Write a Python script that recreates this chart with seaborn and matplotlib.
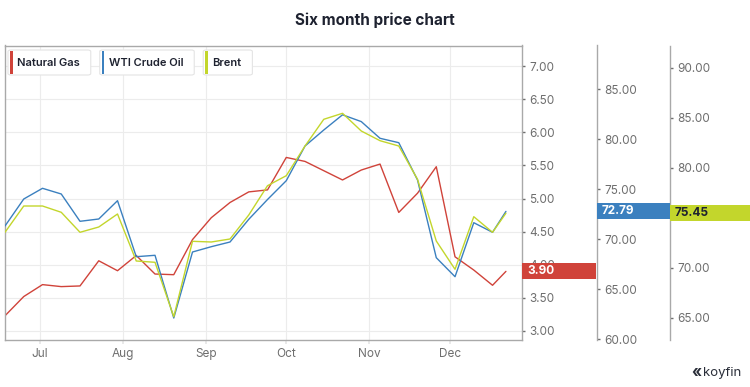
import matplotlib
matplotlib.use('Agg')
import matplotlib.pyplot as plt
import matplotlib.dates as mdates
from matplotlib.patches import FancyBboxPatch, Rectangle
from matplotlib.ticker import FuncFormatter, MultipleLocator
import pandas as pd
import seaborn as sns

# weekly closes, Jun - Dec 2021
dates = ['2021-06-18', '2021-06-25', '2021-07-02', '2021-07-09', '2021-07-16',
         '2021-07-23', '2021-07-30', '2021-08-06', '2021-08-13', '2021-08-20',
         '2021-08-27', '2021-09-03', '2021-09-10', '2021-09-17', '2021-09-24',
         '2021-10-01', '2021-10-08', '2021-10-15', '2021-10-22', '2021-10-29',
         '2021-11-05', '2021-11-12', '2021-11-19', '2021-11-26', '2021-12-03',
         '2021-12-10', '2021-12-17', '2021-12-22']
natural_gas = [3.23, 3.52, 3.70, 3.67, 3.68, 4.06, 3.91, 4.14, 3.86, 3.85,
               4.38, 4.71, 4.94, 5.10, 5.13, 5.62, 5.56, 5.42, 5.28, 5.43,
               5.52, 4.79, 5.08, 5.48, 4.12, 3.92, 3.69, 3.90]
wti_crude = [71.33, 74.03, 75.10, 74.53, 71.80, 72.03, 73.86, 68.26, 68.40, 62.13,
             68.73, 69.26, 69.73, 72.00, 73.98, 75.86, 79.33, 80.93, 82.45, 81.77,
             80.10, 79.66, 75.93, 68.16, 66.26, 71.66, 70.70, 72.79]
brent = [73.54, 76.17, 76.17, 75.54, 73.54, 74.07, 75.37, 70.67, 70.54, 65.10,
         72.64, 72.57, 72.87, 75.27, 78.20, 79.20, 82.17, 84.84, 85.44, 83.67,
         82.70, 82.17, 78.84, 72.67, 69.84, 75.10, 73.54, 75.45]

series_names = ['Natural Gas', 'WTI Crude Oil', 'Brent']
colors = ['#d0433a', '#3b80bf', '#c3d62c']
tag_text_colors = ['white', 'white', '#1e2230']

df = pd.DataFrame({'date': pd.to_datetime(dates), 'gas': natural_gas,
                   'wti': wti_crude, 'brent': brent})

W, H = 750, 387
sns.set_theme(style='white')
plt.rcParams['font.family'] = ['Inter', 'DejaVu Sans']


def fx(px):
    return px / W


def fy(py):
    return 1 - py / H


left, right, top, bottom = 5, 522, 45.5, 340
fig = plt.figure(figsize=(W / 100, H / 100), dpi=100)
ax = fig.add_axes([fx(left), fy(bottom), fx(right - left), (bottom - top) / H])
ax2 = ax.twinx()
ax3 = ax.twinx()

sns.lineplot(data=df, x='date', y='gas', ax=ax, color=colors[0], lw=1.0)
sns.lineplot(data=df, x='date', y='wti', ax=ax2, color=colors[1], lw=1.0)
sns.lineplot(data=df, x='date', y='brent', ax=ax3, color=colors[2], lw=1.0)

ax.set_xlim(pd.Timestamp('2021-06-18'), pd.Timestamp('2021-12-28'))
ax.set_ylim(2.864, 7.31)
ax2.set_ylim(59.93, 89.38)
ax3.set_ylim(62.77, 92.22)

last_vals = [natural_gas[-1], wti_crude[-1], brent[-1]]


def tag_formatter(a, val):
    # hide a tick label that would sit fully under the last-value tag
    lo, hi = a.get_ylim()
    per_px = (hi - lo) / (bottom - top)

    def fmt(v, pos):
        if abs(v - val) < 6 * per_px:
            return ''
        return f'{v:.2f}'
    return FuncFormatter(fmt)


tick_col = '#6e6e6e'
spine_col = '#a9a9a9'
for a, val in zip((ax, ax2, ax3), last_vals):
    a.set_xlabel('')
    a.set_ylabel('')
    a.yaxis.set_major_formatter(tag_formatter(a, val))
    a.tick_params(axis='y', which='both', left=False, right=True, labelleft=False,
                  labelright=True, length=2, width=1, pad=3, color=tick_col,
                  labelsize=8.5, labelcolor=tick_col)

ax.yaxis.set_major_locator(MultipleLocator(0.5))
ax2.yaxis.set_major_locator(MultipleLocator(5))
ax3.yaxis.set_major_locator(MultipleLocator(5))

ax.xaxis.set_major_locator(mdates.MonthLocator())
ax.xaxis.set_major_formatter(mdates.DateFormatter('%b'))
ax.tick_params(axis='x', bottom=True, length=3, color='#e6e6e6', pad=3,
               labelsize=8.5, labelcolor=tick_col)
ax.grid(True, color='#ececec', lw=0.8)
ax2.grid(False)
ax3.grid(False)

for s in ax.spines.values():
    s.set_color(spine_col)
    s.set_linewidth(1)
for a, pos in ((ax2, (597 - left) / (right - left)), (ax3, (670 - left) / (right - left))):
    for k in ('left', 'top', 'bottom'):
        a.spines[k].set_visible(False)
    a.spines['right'].set_position(('axes', pos))
    a.spines['right'].set_color(spine_col)
    a.spines['right'].set_linewidth(1)

fig.canvas.draw()
renderer = fig.canvas.get_renderer()

# last value tags on each axis
tag_cols = [(522, 596), (597, 670), (670, 750)]
for a, val, (x0, x1), c, tc in zip((ax, ax2, ax3), last_vals, tag_cols, colors, tag_text_colors):
    yc = a.transData.transform((0, val))[1] / H
    fig.patches.append(Rectangle((fx(x0), yc - 8 / H), fx(x1 - x0), 16 / H,
                                 transform=fig.transFigure, fc=c, ec='none', zorder=2))
    fig.text(fx(x0 + 5), yc, f'{val:.2f}', ha='left', va='center', fontsize=8.5,
             fontweight='bold', color=tc, zorder=3)

# title
fig.text(0.5, fy(20), 'Six month price chart', ha='center', va='center',
         fontsize=11, fontweight='bold', color='#1e2230')

# legend chips
x = 8
for name, c in zip(series_names, colors):
    t = fig.text(fx(x + 9), fy(62.5), name, ha='left', va='center', fontsize=8,
                 fontweight='semibold', color='#1e2230', zorder=4)
    w = t.get_window_extent(renderer).width
    box_w = 9 + w + 11
    fig.patches.append(FancyBboxPatch((fx(x), fy(75)), fx(box_w), 25 / H,
                                      boxstyle='round,pad=0,rounding_size=0.004',
                                      transform=fig.transFigure, fc='white',
                                      ec='#e4e4e4', lw=0.8, zorder=2))
    fig.patches.append(Rectangle((fx(x + 2), fy(74)), fx(2.5), 23 / H,
                                 transform=fig.transFigure, fc=c, ec='none', zorder=3))
    x += box_w + 9

# watermark
fig.text(fx(703), fy(373), 'koyfin', ha='left', va='center', fontsize=9.5,
         color='#2a2e39')
fig.text(fx(701), fy(372), '«', ha='right', va='center', fontsize=11,
         fontweight='bold', color='#2a2e39')

fig.savefig('out.png', dpi=100)
